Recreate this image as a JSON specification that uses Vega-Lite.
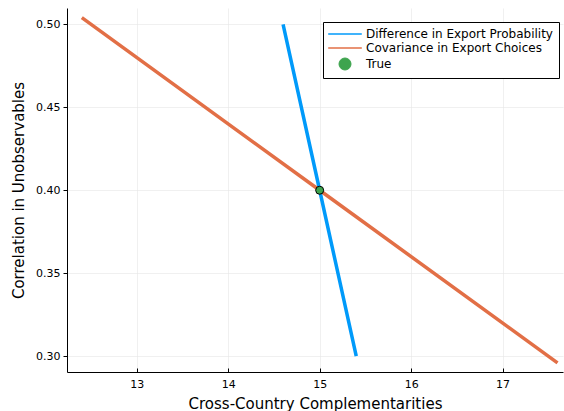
{
  "$schema": "https://vega.github.io/schema/vega-lite/v6.json",
  "width": 496,
  "height": 364,
  "autosize": {"type": "none"},
  "padding": {"left": 67, "top": 8, "right": 1, "bottom": 39},
  "background": "white",
  "config": {
    "view": {"stroke": null},
    "font": "DejaVu Sans",
    "axis": {
      "domainColor": "#000000",
      "domainWidth": 1,
      "gridColor": "#e6e6e6",
      "gridWidth": 0.6,
      "tickColor": "#000000",
      "labelFont": "DejaVu Sans",
      "labelFontSize": 11,
      "labelColor": "#000000",
      "titleFont": "DejaVu Sans",
      "titleFontSize": 15,
      "titleFontWeight": "normal",
      "titleColor": "#000000"
    }
  },
  "datasets": {
    "lines": [
      {"series": "Difference in Export Probability", "x": 14.6, "y": 0.5},
      {"series": "Difference in Export Probability", "x": 15.0, "y": 0.4},
      {"series": "Difference in Export Probability", "x": 15.4, "y": 0.3},
      {"series": "Covariance in Export Choices", "x": 12.4, "y": 0.504},
      {"series": "Covariance in Export Choices", "x": 15.0, "y": 0.4},
      {"series": "Covariance in Export Choices", "x": 17.6, "y": 0.296}
    ],
    "pts": [
      {"series": "True", "x": 15.0, "y": 0.4}
    ]
  },
  "layer": [
    {
      "data": {"name": "lines"},
      "mark": {"type": "line", "strokeWidth": 3.5, "clip": true},
      "encoding": {
        "x": {"field": "x", "type": "quantitative", "scale": {"domain": [12.238, 17.66], "nice": false, "zero": false},
              "axis": {"title": "Cross-Country Complementarities", "values": [13, 14, 15, 16, 17], "format": "d", "tickSize": -4, "labelPadding": 10, "titlePadding": 7}},
        "y": {"field": "y", "type": "quantitative", "scale": {"domain": [0.2905, 0.5098], "nice": false, "zero": false},
              "axis": {"title": "Correlation in Unobservables", "values": [0.3, 0.35, 0.4, 0.45, 0.5], "format": ".2f", "tickSize": 4, "labelPadding": 3, "titlePadding": 9}},
        "color": {"field": "series", "type": "nominal", "sort": null,
          "scale": {"domain": ["Difference in Export Probability", "Covariance in Export Choices", "True"], "range": ["#009AFA", "#E26F46", "#3EA44E"]},
          "legend": {
            "title": null, "orient": "none", "legendX": 256, "legendY": 14,
            "strokeColor": "#000000", "fillColor": "#ffffff", "padding": 6,
            "labelFont": "DejaVu Sans", "labelFontSize": 12, "labelColor": "#000000", "labelLimit": 0,
            "symbolType": "M-2.8,0H2.8", "symbolSize": 144, "symbolStrokeWidth": 1.5,
            "symbolOffset": 10, "labelOffset": 15, "rowPadding": 2,
            "encode": {
              "symbols": {
                "update": {
                  "stroke": {"signal": "datum.value === 'True' ? '#000000' : scale('color', datum.value)"},
                  "strokeWidth": {"signal": "datum.value === 'True' ? 1 : 1.5"}
                }
              }
            }
          }
        },
        "detail": {"field": "series"}
      }
    },
    {
      "data": {"name": "pts"},
      "mark": {"type": "point", "filled": true, "size": 64, "stroke": "#000000", "strokeWidth": 1, "opacity": 1},
      "encoding": {
        "x": {"field": "x", "type": "quantitative"},
        "y": {"field": "y", "type": "quantitative"},
        "color": {"field": "series", "type": "nominal"},
        "shape": {"field": "series", "type": "nominal",
          "scale": {"domain": ["Difference in Export Probability", "Covariance in Export Choices", "True"], "range": ["M-2.8,0H2.8", "M-2.8,0H2.8", "circle"]},
          "legend": null}
      }
    }
  ]
}
